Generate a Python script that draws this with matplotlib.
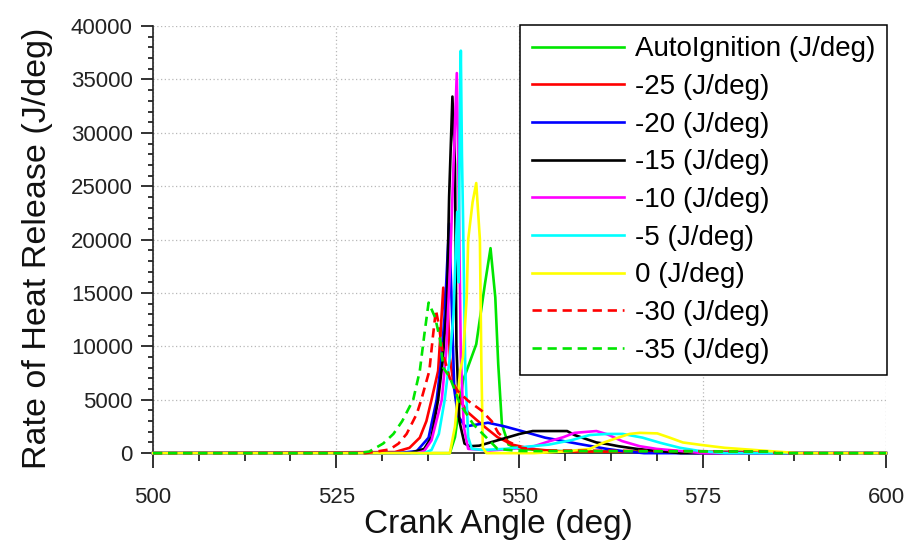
import matplotlib
matplotlib.use('Agg')
import matplotlib.pyplot as plt
from matplotlib.ticker import MultipleLocator, AutoMinorLocator

plt.rcParams['font.family'] = ['Liberation Sans', 'DejaVu Sans']

# crank angle (deg) / heat release rate (J/deg)
auto_x = [500, 540.5, 541.2, 542.3, 543.2, 544.1, 545.3, 546.05, 546.7, 547.1, 547.6, 548.5, 550, 555, 584, 585, 600]
auto_y = [0, 0, 1500, 6800, 8500, 10200, 15900, 19200, 14600, 8350, 2700, 800, 400, 200, 100, 0, 0]

m25_x = [500, 533, 535, 536.4, 537.3, 538.0, 538.9, 539.3, 539.6, 539.9, 540.2, 540.5, 541, 542, 543, 545, 547, 549, 552, 556, 584, 585, 600]
m25_y = [0, 100, 500, 1450, 3000, 5000, 7700, 12000, 15500, 12500, 14000, 9000, 6500, 4800, 3800, 2600, 1500, 800, 350, 150, 100, 0, 0]

m20_x = [500, 533.5, 536, 537.6, 538.7, 539.3, 539.8, 540.4, 540.8, 541.1, 541.6, 542.6, 545.7, 548, 550.3, 553.5, 558.2, 561.9, 564, 567, 600]
m20_y = [0, 0, 200, 1450, 5000, 8500, 13000, 21500, 13000, 6000, 3500, 2500, 2850, 2500, 2070, 1450, 850, 400, 200, 0, 0]

m15_x = [500, 535, 537, 538, 538.9, 539.5, 540.1, 540.4, 540.85, 541.2, 541.4, 541.8, 542.5, 543.2, 544.5, 546, 548, 550, 551.8, 556.5, 557.5, 559.2, 560.5, 562, 563.5, 566, 569, 572, 600]
m15_y = [0, 0, 400, 1500, 5000, 8500, 14000, 24000, 33400, 27000, 10000, 3000, 900, 650, 700, 1000, 1400, 1800, 2070, 2070, 1700, 1300, 1000, 850, 650, 400, 200, 0, 0]

m10_x = [500, 536, 537, 538, 539.4, 540, 540.5, 541, 541.45, 541.7, 542, 542.4, 543, 546, 549, 552, 554, 556, 557.5, 560.5, 562, 564, 566.4, 568.7, 572, 575, 600]
m10_y = [0, 0, 200, 1200, 5000, 9500, 17000, 27000, 35600, 25000, 9000, 2500, 400, 250, 400, 650, 1100, 1500, 1900, 2070, 1760, 1130, 650, 400, 200, 0, 0]

m5_x = [500, 537, 538, 539, 539.8, 540.5, 541.0, 541.5, 541.7, 541.85, 542.0, 542.15, 542.3, 542.6, 543, 543.5, 545, 548, 551, 554, 557, 559.6, 562, 564.1, 566.8, 569.2, 571.9, 574.6, 578, 600]
m5_y = [0, 0, 300, 1800, 5000, 9000, 13000, 22600, 16000, 30000, 37700, 28000, 22000, 8000, 1500, 400, 300, 400, 600, 800, 1200, 1700, 1800, 1800, 1450, 970, 500, 200, 0, 0]

z0_x = [500, 540.5, 541.2, 541.9, 542.3, 542.8, 543.0, 543.6, 544.1, 544.6, 544.8, 545.0, 545.5, 552, 556, 559.6, 561.4, 562.8, 565, 566.4, 568.8, 570.5, 572.3, 575, 578, 581, 585, 588, 600]
z0_y = [0, 0, 2500, 7700, 9000, 14600, 20000, 23500, 25300, 20000, 8350, 500, 0, 0, 150, 400, 970, 1300, 1800, 1900, 1850, 1450, 1000, 750, 500, 350, 150, 0, 0]

m30_x = [500, 529, 530.5, 532.3, 533.5, 534.6, 536, 536.6, 537.7, 538.2, 538.6, 539, 539.5, 540.5, 541.6, 543, 544.8, 546.2, 547.1, 548.4, 550.3, 553, 584, 585, 600]
m30_y = [0, 0, 150, 350, 900, 1800, 3700, 5000, 7700, 11000, 13400, 12000, 9500, 7000, 5800, 4900, 4000, 3000, 1900, 1100, 500, 250, 150, 0, 0]

m35_x = [500, 528, 529.5, 531.4, 532.8, 534, 535.5, 536.4, 537, 537.6, 538.5, 539.2, 539.6, 540.5, 541.9, 543.7, 545.5, 547, 550, 584, 585, 600]
m35_y = [0, 0, 150, 900, 1800, 3000, 5000, 7700, 11000, 14100, 12700, 10500, 8000, 7100, 4600, 2700, 1450, 400, 200, 150, 0, 0]

labels = ['AutoIgnition (J/deg)', '-25 (J/deg)', '-20 (J/deg)', '-15 (J/deg)',
          '-10 (J/deg)', '-5 (J/deg)', '0 (J/deg)', '-30 (J/deg)', '-35 (J/deg)']
series = [(auto_x, auto_y), (m25_x, m25_y), (m20_x, m20_y), (m15_x, m15_y),
          (m10_x, m10_y), (m5_x, m5_y), (z0_x, z0_y), (m30_x, m30_y), (m35_x, m35_y)]
colors = ['#00e600', '#ff0000', '#0000ff', '#000000', '#ff00ff', '#00ffff', '#ffff00', '#ff0000', '#00e600']
styles = ['-', '-', '-', '-', '-', '-', '-', (0, (3.5, 2.2)), (0, (3.5, 2.2))]

fig = plt.figure(figsize=(9.2, 5.44), dpi=100)
ax = fig.add_axes([0.1663, 0.167, 0.7967, 0.785])

for (xs, ys), lab, c, ls in zip(series, labels, colors, styles):
    ax.plot(xs, ys, color=c, linestyle=ls, lw=1.9, label=lab, zorder=3, clip_on=False)

ax.set_xlim(500, 600)
ax.set_ylim(0, 40000)
ax.xaxis.set_major_locator(MultipleLocator(25))
ax.xaxis.set_minor_locator(AutoMinorLocator(4))
ax.yaxis.set_major_locator(MultipleLocator(5000))
ax.yaxis.set_minor_locator(AutoMinorLocator(5))

ax.grid(True, which='major', color='#b8b8b8', linestyle=(0, (1, 2)), lw=0.9)
ax.set_axisbelow(True)

for s in ['top', 'right']:
    ax.spines[s].set_visible(False)
for s in ['left', 'bottom']:
    ax.spines[s].set_linewidth(1.2)
    ax.spines[s].set_color('#222222')

ax.tick_params(axis='x', which='major', length=10.5, width=1.3, direction='out', labelsize=16, pad=14, colors='#222222')
ax.tick_params(axis='x', which='minor', length=5.5, width=1.1, direction='out')
ax.tick_params(axis='y', which='major', length=8.5, width=1.3, direction='out', labelsize=16, pad=6, colors='#222222')
ax.tick_params(axis='y', which='minor', length=3.5, width=1.1, direction='out')

ax.set_xlabel('Crank Angle (deg)', fontsize=24, color='#111111')
ax.set_ylabel('Rate of Heat Release (J/deg)', fontsize=24.5, color='#111111')
ax.xaxis.set_label_coords(0.471, -0.13)
ax.yaxis.set_label_coords(-0.137, 0.479)

leg = ax.legend(loc='upper right', bbox_to_anchor=(1.001, 1.003), borderaxespad=0,
                fontsize=20, frameon=True, fancybox=False, handlelength=3.3,
                handletextpad=0.4, labelspacing=0.42, borderpad=0.42)
leg.get_frame().set_edgecolor('black')
leg.get_frame().set_linewidth(1.1)
leg.get_frame().set_alpha(1)

fig.savefig('out.png', dpi=100)
